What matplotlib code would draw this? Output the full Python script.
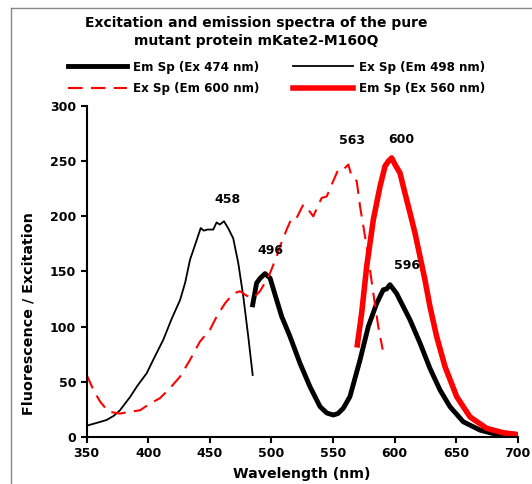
"""Excitation and emission spectra of mKate2-M160Q."""

import matplotlib

matplotlib.use("Agg")
import matplotlib.pyplot as plt
from matplotlib.lines import Line2D

# Em Sp (Ex 474 nm), thick black
em474_x = [484.8, 488, 491, 494.8, 498.9, 504.3, 508.4, 515.1, 523.2, 531.3, 539.5,
           545, 550.3, 554, 558.4, 563.8, 572, 578.7, 585.5, 590.9, 593.5, 596.3,
           601.7, 604.4, 612.6, 620.7, 628.8, 636.9, 645, 655.8, 669.4, 683, 699]
em474_y = [119.7, 139.5, 144, 148, 144, 124, 109, 91, 66.7, 45.5, 27.3,
           21.5, 19.7, 21, 25.8, 36.4, 69.7, 100, 121, 133.4, 134, 138,
           130, 124, 106, 85, 62, 42.5, 27.3, 13.6, 6, 2, 0.5]

# Ex Sp (Em 498 nm), thin black
ex498_x = [350, 358, 366.2, 372, 377, 385.2, 391, 398.7, 405, 412.2, 419, 425.8,
           430, 433.9, 438, 442.6, 445, 448, 452.8, 455.5, 458, 461.5, 465,
           469, 473.1, 477.2, 481.2, 484.8]
ex498_y = [10, 12.5, 15.2, 19, 24, 36, 46, 57.6, 72, 88, 107, 124,
           140, 160.6, 174, 189.4, 187, 188, 188, 194.5, 192.5, 195.5, 189,
           180, 157.6, 127, 91, 56]

# Ex Sp (Em 600 nm), red dashed
ex600_x = [350, 355.4, 360.8, 367.6, 377, 385.2, 393.3, 401.4, 409.5, 417.6,
           425.8, 433.9, 442, 450.1, 455.5, 462.3, 469, 474.5, 479.9, 485.3,
           490.7, 496.2, 498.9, 504.3, 507, 512.4, 516.5, 520.5, 525.9, 530,
           534, 540.8, 544.9, 549, 554.3, 558.4, 562.5, 565.2, 569.3, 572,
           577.4, 582.8, 586.8, 590.4]
ex600_y = [56, 42.5, 32, 22.7, 21, 22.7, 24, 30, 35, 44,
           54.5, 69.7, 86.4, 97, 109, 121, 130, 132, 128, 125.8,
           132, 142.5, 148.5, 163.6, 172.7, 188, 198.5, 198.5, 210.6, 206,
           200, 216.7, 218, 228.8, 242.5, 242.5, 247, 236, 232, 209,
           172.7, 130, 100, 79]

# Em Sp (Ex 560 nm), thick red
em560_x = [569.8, 573.3, 577.4, 582.8, 588.2, 592.3, 595, 597.7, 600.4, 604.4,
           608.5, 612.6, 616.6, 620.7, 624.7, 628.8, 634.2, 641, 650.5, 661.3,
           674.8, 688.3, 700]
em560_y = [83.4, 112, 154.5, 197, 227, 245.5, 250, 253, 247, 239.5,
           221, 203, 185, 163.6, 142.5, 118, 91, 63.6, 36.4, 18,
           7.6, 3.6, 2]

peak_labels = ["458", "496", "563", "600", "596"]
peak_x = [464.7, 499, 565.2, 605.8, 609.9]
peak_y = [215, 169, 269, 270, 155.5]


def main() -> None:
    plt.rcParams["font.family"] = "DejaVu Sans"
    plt.rcParams["font.weight"] = "bold"

    fig = plt.figure(figsize=(5.32, 4.84), dpi=100)
    ax = fig.add_axes([0.163, 0.0977, 0.810, 0.683])

    h1, = ax.plot(em474_x, em474_y, color="black", lw=3.5, label="Em Sp (Ex 474 nm)")
    h2, = ax.plot(ex498_x, ex498_y, color="black", lw=1.3, label="Ex Sp (Em 498 nm)")
    h3, = ax.plot(ex600_x, ex600_y, color="red", lw=1.5, dashes=(7, 4),
                  label="Ex Sp (Em 600 nm)")
    h4, = ax.plot(em560_x, em560_y, color="red", lw=4.0, label="Em Sp (Ex 560 nm)")

    for txt, x, y in zip(peak_labels, peak_x, peak_y):
        ax.text(x, y, txt, ha="center", va="center", fontsize=9, fontweight="bold")

    ax.set_xlim(350, 700)
    ax.set_ylim(0, 300)
    ax.set_xticks(range(350, 701, 50))
    ax.set_yticks(range(0, 301, 50))
    for side in ("top", "right"):
        ax.spines[side].set_visible(False)
    for side in ("left", "bottom"):
        ax.spines[side].set_linewidth(1.5)
    ax.tick_params(direction="out", length=4, width=1.5, labelsize=9)
    ax.set_xlabel("Wavelength (nm)", fontsize=10.2, fontweight="bold", labelpad=5)
    ax.set_ylabel("Fluorescence / Excitation", fontsize=10.3, fontweight="bold")
    ax.yaxis.set_label_coords(-0.119, 0.3725)

    fig.text(0.481, 1 - 32 / 484, "Excitation and emission spectra of the pure\nmutant protein mKate2-M160Q",
             ha="center", va="center", fontsize=10, fontweight="bold", linespacing=1.45)

    fig.legend([h1, h3, h2, h4], [h.get_label() for h in (h1, h3, h2, h4)],
               ncol=2, frameon=False, loc="center", bbox_to_anchor=(0.5195, 1 - 78 / 484),
               handlelength=5.0, columnspacing=2.8, handletextpad=0.5,
               labelspacing=0.75, prop={"weight": "bold", "size": 8.6})

    # outer frame of the original (cropped on right and bottom)
    fig.add_artist(Line2D([11 / 532, 11 / 532], [0, 1 - 8 / 484], color="#888888",
                          lw=1.0, transform=fig.transFigure))
    fig.add_artist(Line2D([11 / 532, 1], [1 - 8 / 484, 1 - 8 / 484], color="#888888",
                          lw=1.0, transform=fig.transFigure))

    fig.savefig("out.png", dpi=100)
    plt.close(fig)


if __name__ == "__main__":
    main()
